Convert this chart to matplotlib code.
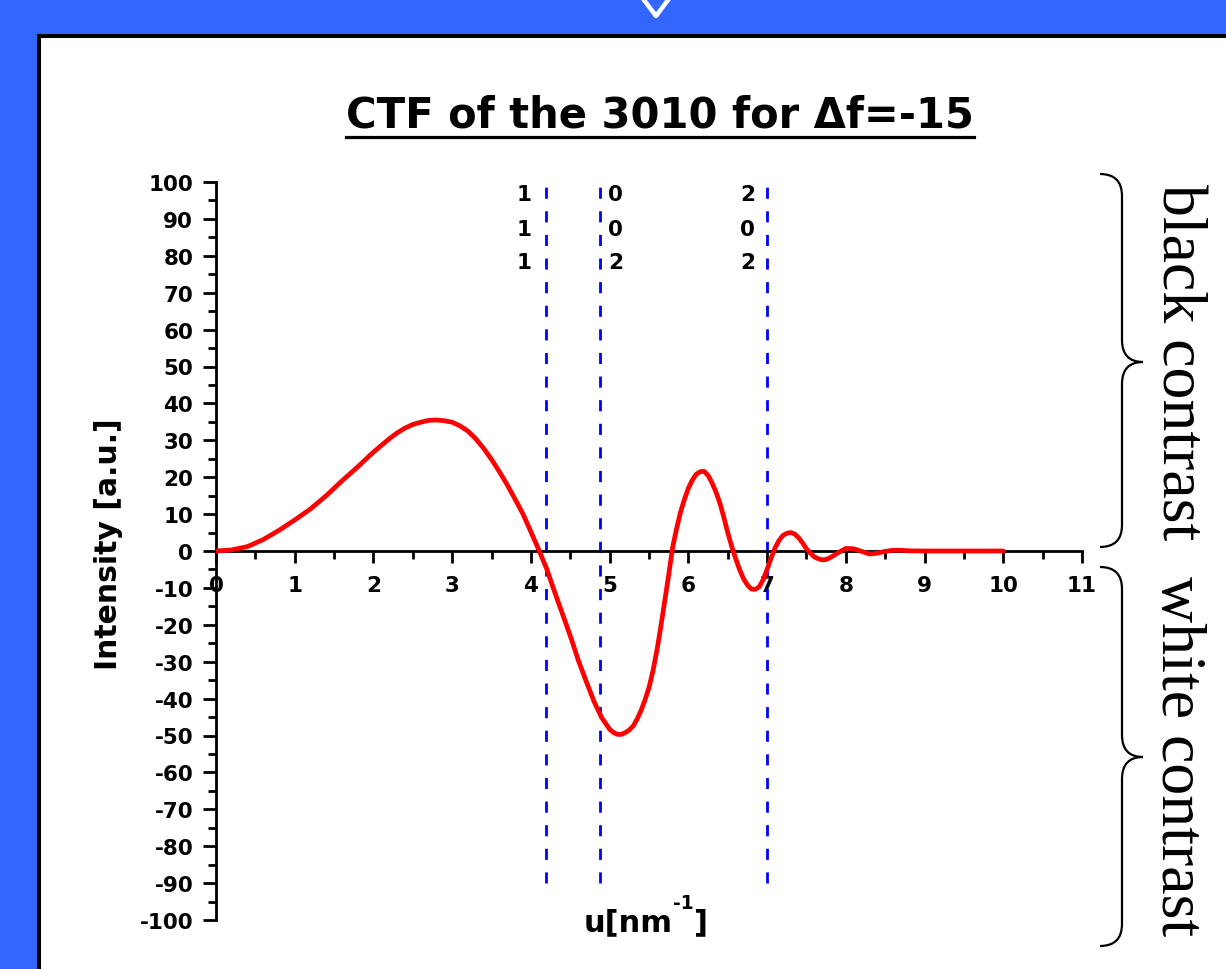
import matplotlib
matplotlib.use('Agg')
import matplotlib.pyplot as plt
from matplotlib.patches import Rectangle, PathPatch
from matplotlib.path import Path
from matplotlib.lines import Line2D
from matplotlib.ticker import MultipleLocator

W, H = 1226, 970

# CTF curve
u = [0, 0.2, 0.4, 0.6, 0.8, 1.0, 1.2, 1.4, 1.6, 1.8, 2.0, 2.2, 2.3, 2.4, 2.5,
     2.6, 2.7, 2.8, 2.9, 3.0, 3.1, 3.2, 3.3, 3.4, 3.5, 3.6, 3.7, 3.8, 3.9, 4.0,
     4.1, 4.2, 4.3, 4.4, 4.5, 4.6, 4.7, 4.8,
     4.9, 5.0, 5.05, 5.1, 5.15, 5.2, 5.25, 5.3, 5.35, 5.4, 5.45, 5.5, 5.55, 5.6,
     5.65, 5.7, 5.75, 5.8, 5.85, 5.9, 5.95, 6.0, 6.05, 6.1, 6.15, 6.2, 6.25,
     6.3, 6.35, 6.4, 6.45, 6.5, 6.55, 6.6, 6.65, 6.7, 6.75, 6.8, 6.85, 6.9,
     6.95, 7.0, 7.05, 7.1, 7.15, 7.2, 7.25, 7.3, 7.35, 7.4, 7.45, 7.5, 7.55,
     7.6, 7.65, 7.7, 7.75, 7.8, 7.85, 7.9, 8.0, 8.1, 8.2, 8.3, 8.4, 8.5, 8.6,
     8.7, 8.8, 9.0, 9.5, 10.0]
intensity = [0, 0.3, 1.2, 3.1, 5.6, 8.4, 11.4, 15.0, 19.0, 22.8, 26.8, 30.4,
             32.0, 33.3, 34.3, 34.9, 35.4, 35.5, 35.3, 34.9, 33.9, 32.5, 30.4,
             27.8, 24.8, 21.5, 17.9, 14.0, 10.0, 5.2, 0.3,
             -4.8, -11.0, -17.0, -23.0, -29.5, -35.2, -40.7, -45.2, -48.3,
             -49.2, -49.7, -49.7, -49.2, -48.5, -47.4, -45.5, -43.2, -40.3,
             -37.0, -32.5, -27.0, -20.5, -13.5, -6.5, 1.0, 6.0, 10.5, 14.0,
             17.0, 19.2, 20.8, 21.5, 21.6, 20.5, 18.5, 16.0, 13.0, 9.2, 5.0,
             1.3, -2.0, -5.0, -7.5, -9.2, -10.3, -10.4, -9.7, -7.8, -5.0, -2.0,
             0.8, 2.8, 4.2, 4.8, 5.0, 4.6, 3.6, 2.2, 0.6, -0.6, -1.6, -2.1, -2.4,
             -2.3, -1.8, -1.2, -0.5, 0.7, 0.6, -0.1, -0.8, -0.6, -0.1, 0.2, 0.2,
             0.05, 0, 0, 0]

# reflections
reflection_u = [4.19, 4.88, 7.0]
hkl = [('1', '1', '1'), ('0', '0', '2'), ('2', '0', '2')]
hkl_u = [3.91, 5.08, 6.75]
hkl_rows = [96.7, 87.3, 78.3]

x_ticks = list(range(0, 12))
y_ticks = list(range(-100, 101, 10))

plt.rcParams['font.family'] = 'DejaVu Sans'
plt.rcParams['font.weight'] = 'bold'
plt.rcParams['axes.unicode_minus'] = False


def fx(px):
    return px / W


def fy(py):
    return 1 - py / H


fig = plt.figure(figsize=(W / 100, H / 100), dpi=100)
fig.patch.set_facecolor('#3366ff')

# white slide panel with black edge
fig.add_artist(Rectangle((fx(39), -0.1), 1.2, fy(37) + 0.1, transform=fig.transFigure,
                         facecolor='white', edgecolor='black', lw=2.9, zorder=-10))
# little chevron at the top
fig.add_artist(Line2D([fx(641), fx(656), fx(671)], [fy(-3), fy(17), fy(-3)],
                      transform=fig.transFigure, color='white', lw=3.2))

ax = fig.add_axes([fx(216), fy(921), (1082 - 216) / W, (921 - 183) / H])
ax.patch.set_alpha(0)
ax.set_xlim(0, 11)
ax.set_ylim(-100, 100)

ax.plot(u, intensity, color='red', lw=3.4, solid_joinstyle='round',
        solid_capstyle='round', zorder=3)
for xv in reflection_u:
    ax.plot([xv, xv], [-90, 101], color='blue', lw=2, ls=(0, (4, 4.5)),
            clip_on=False, zorder=2)
for col, xv in zip(hkl, hkl_u):
    for ch, yv in zip(col, hkl_rows):
        ax.text(xv, yv, ch, ha='center', va='center', fontsize=15.5, fontweight='bold')

ax.spines['top'].set_visible(False)
ax.spines['right'].set_visible(False)
ax.spines['bottom'].set_position(('data', 0))
ax.spines['left'].set_linewidth(2)
ax.spines['bottom'].set_linewidth(2)

ax.set_xticks(x_ticks)
ax.set_yticks(y_ticks)
ax.xaxis.set_minor_locator(MultipleLocator(0.5))
ax.yaxis.set_minor_locator(MultipleLocator(5))
ax.tick_params(axis='both', which='both', direction='out', width=2, labelsize=15.5)
ax.tick_params(axis='x', which='major', length=8.4, pad=9)
ax.tick_params(axis='x', which='minor', length=5.5)
ax.tick_params(axis='y', which='major', length=9.4, pad=7)
ax.tick_params(axis='y', which='minor', length=5.8)
for lbl in ax.get_xticklabels() + ax.get_yticklabels():
    lbl.set_fontweight('bold')

# title with underline
title = fig.text(fx(660), fy(128), 'CTF of the 3010 for \u0394f=-15', ha='center',
                 va='baseline', fontsize=30, fontweight='bold')
renderer = fig.canvas.get_renderer()
bb = title.get_window_extent(renderer)
fig.add_artist(Line2D([bb.x0 / W, bb.x1 / W], [fy(138), fy(138)],
                      transform=fig.transFigure, color='black', lw=2.3))

# axis labels
fig.text(fx(109), fy(544), 'Intensity [a.u.]', rotation=90, ha='center', va='center',
         fontsize=21.5, fontweight='bold')
t1 = fig.text(fx(584), fy(931), 'u[nm', ha='left', va='baseline', fontsize=22,
              fontweight='bold')
b1 = t1.get_window_extent(renderer)
t2 = fig.text(b1.x1 / W, fy(909), '-1', ha='left', va='baseline', fontsize=13.5,
              fontweight='bold')
b2 = t2.get_window_extent(renderer)
fig.text(b2.x1 / W, fy(931), ']', ha='left', va='baseline', fontsize=22,
         fontweight='bold')


# curly braces on the right
def brace(x_end, x_spine, x_tip, y_top, y_mid, y_bot, r=22):
    pts = [(x_end, y_top), (x_spine, y_top), (x_spine, y_top + r),
           (x_spine, y_mid - r),
           (x_spine, y_mid), (x_tip, y_mid),
           (x_spine, y_mid), (x_spine, y_mid + r),
           (x_spine, y_bot - r),
           (x_spine, y_bot), (x_end, y_bot)]
    codes = [Path.MOVETO, Path.CURVE3, Path.CURVE3, Path.LINETO, Path.CURVE3,
             Path.CURVE3, Path.CURVE3, Path.CURVE3, Path.LINETO, Path.CURVE3,
             Path.CURVE3]
    verts = [(fx(x), fy(y)) for x, y in pts]
    fig.add_artist(PathPatch(Path(verts, codes), transform=fig.transFigure,
                             facecolor='none', edgecolor='black', lw=1.6))


brace(1100, 1122, 1143, 175, 363, 548)
brace(1100, 1122, 1143, 568, 758, 947)

fig.text(fx(1162), fy(362), 'black contrast', rotation=-90, rotation_mode='anchor',
         ha='center', va='baseline', fontsize=46, fontweight='normal',
         family='Liberation Serif')
fig.text(fx(1162), fy(756), 'white contrast', rotation=-90, rotation_mode='anchor',
         ha='center', va='baseline', fontsize=46, fontweight='normal',
         family='Liberation Serif')

fig.savefig('out.png', dpi=100, facecolor=fig.get_facecolor())
